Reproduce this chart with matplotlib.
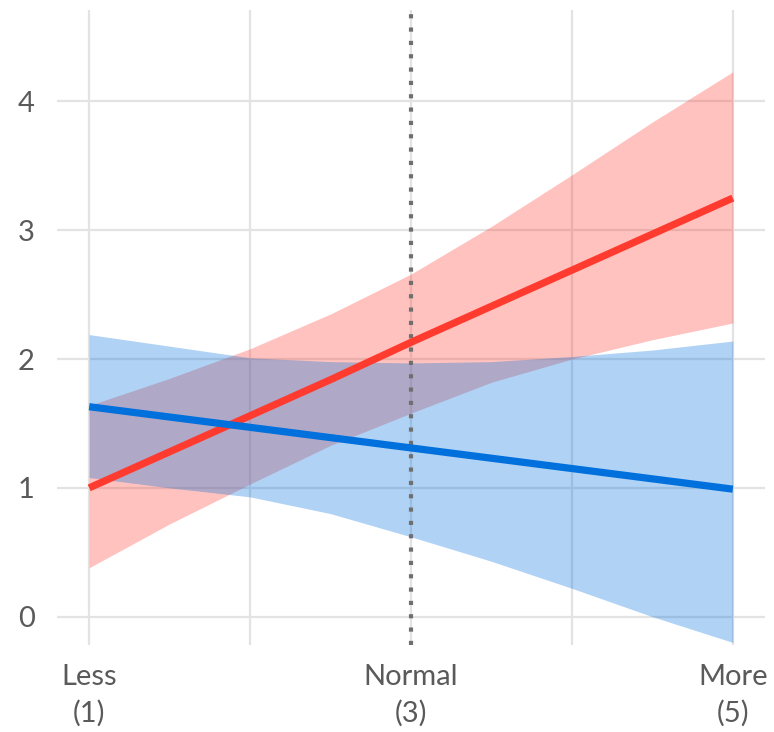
import numpy as np
import matplotlib.pyplot as plt

plt.switch_backend('agg')
plt.rcParams['font.family'] = ['Lato', 'DejaVu Sans']

# x positions of the predictions
x = [1, 1.5, 2, 2.5, 3, 3.5, 4, 4.5, 5]

# red group: fitted line and interval
red_fit = [1.00, 1.28, 1.56, 1.84, 2.13, 2.41, 2.69, 2.97, 3.25]
red_lo = [0.38, 0.72, 1.03, 1.33, 1.58, 1.82, 2.00, 2.15, 2.28]
red_hi = [1.64, 1.85, 2.08, 2.35, 2.66, 3.03, 3.43, 3.84, 4.23]

# blue group: fitted line and interval
blue_fit = [1.63, 1.55, 1.47, 1.39, 1.31, 1.23, 1.15, 1.07, 0.99]
blue_lo = [1.08, 1.00, 0.93, 0.80, 0.62, 0.43, 0.22, 0.00, -0.20]
blue_hi = [2.19, 2.10, 2.01, 1.98, 1.97, 1.98, 2.02, 2.07, 2.14]

xticks = [1, 2, 3, 4, 5]
xticklabels = ["Less\n(1)", "", "Normal\n(3)", "", "More\n(5)"]
yticks = [0, 1, 2, 3, 4]

red = "#ff3b30"
blue = "#0070dd"

fig = plt.figure(figsize=(7.74, 7.32), dpi=100)
ax = fig.add_axes([57 / 774, 87 / 732, 708 / 774, 635 / 732])

ax.fill_between(x, red_lo, red_hi, color=red, alpha=0.31, linewidth=0, zorder=2)
ax.fill_between(x, blue_lo, blue_hi, color=blue, alpha=0.31, linewidth=0, zorder=3)
ax.axvline(3, color="#6f6f6f", linestyle=(0, (1, 2.2)), linewidth=3, zorder=4)
ax.plot(x, red_fit, color=red, linewidth=5.2, solid_capstyle="butt", zorder=5)
ax.plot(x, blue_fit, color=blue, linewidth=5.2, solid_capstyle="butt", zorder=5)

ax.set_xlim(0.8, 5.2)
ax.set_ylim(-0.22, 4.71)
ax.set_xticks(xticks)
ax.set_xticklabels(xticklabels, linespacing=1.45)
ax.set_yticks(yticks)

ax.grid(True, color="#e3e3e3", linewidth=1.6, zorder=1)
ax.set_axisbelow(True)
for s in ax.spines.values():
    s.set_visible(False)
ax.tick_params(length=0, labelsize=21, labelcolor="#5a5a5a")
ax.tick_params(axis="x", pad=14)
ax.tick_params(axis="y", pad=16)

plt.savefig("out.png", dpi=100)
